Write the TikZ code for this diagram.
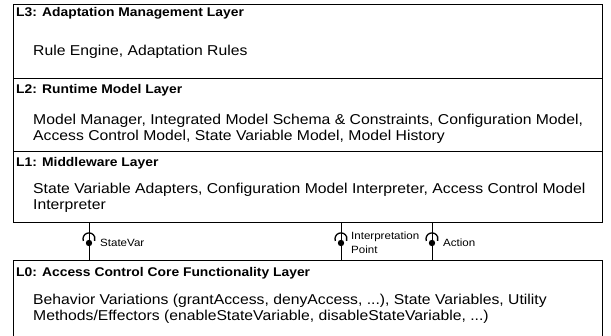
\documentclass[tikz,border=0pt]{standalone}
\usepackage{fontspec}
\setmainfont{Liberation Sans}[FakeStretch=1.1]
\usetikzlibrary{positioning, calc}

\begin{document}
\begin{tikzpicture}[
    x=1pt, y=-1pt,
    font=\fontsize{14.3}{16}\selectfont,
    layer/.style={draw, minimum width=589pt, inner sep=0pt, anchor=north west},
    title/.style={inner sep=0pt, font=\fontsize{12.6}{16}\selectfont\bfseries},
    body/.style={inner sep=0pt, align=left},
    iface/.style={anchor=west, inner sep=0pt, align=left,
                  font=\fontsize{10.5}{14.5}\selectfont},
    ball/.style={fill=black},
    socket/.style={line width=1.3pt},
  ]
  \useasboundingbox (0,0) rectangle (611,336);
  % layer boxes
  \node[layer, minimum height=74pt] (l3) at (13,4) {};
  \node[layer, minimum height=73pt] (l2) at (13,78) {};
  \node[layer, minimum height=71pt] (l1) at (13,151) {};
  \node[layer, minimum height=90pt] (l0) at (13,260) {};
  % titles and contents
  \node[title, below right=3.5pt and 3pt of l3.north west] (t3) {L3: Adaptation Management Layer};
  \node[body, below right=41pt and 20pt of l3.north west] (b3) {Rule Engine, Adaptation Rules};
  \node[title, below right=6pt and 3pt of l2.north west] (t2) {L2: Runtime Model Layer};
  \node[body, below right=36pt and 20pt of l2.north west] (b2)
    {Model Manager, Integrated Model Schema \& Constraints, Configuration Model,\\
     Access Control Model, State Variable Model, Model History};
  \node[title, below right=6pt and 3pt of l1.north west] (t1) {L1: Middleware Layer};
  \node[body, below right=32pt and 20pt of l1.north west] (b1)
    {State Variable Adapters, Configuration Model Interpreter, Access Control Model\\
     Interpreter};
  \node[title, below right=7pt and 3pt of l0.north west] (t0) {L0: Access Control Core Functionality Layer};
  \node[body, below right=34pt and 20pt of l0.north west] (b0)
    {Behavior Variations (grantAccess, denyAccess, ...), State Variables, Utility\\
     Methods/Effectors (enableStateVariable, disableStateVariable, ...)};
  % provided/required interfaces
  \coordinate (sv) at (89,243);
  \coordinate (ip) at (341,243);
  \coordinate (ac) at (432,243);
  \foreach \c in {sv, ip, ac} {
    \draw (\c |- l1.south) -- (\c |- l0.north);
    \fill[ball] (\c) circle (3.2pt);
    \draw[socket] ($(\c)+(200:6)$) arc[start angle=200, end angle=-20, radius=6pt];
  }
  \node[iface, right=11pt of sv] (svl) {StateVar};
  \node[iface, right=10pt of ip] (ipl) {Interpretation\\Point};
  \node[iface, right=11pt of ac] (acl) {Action};
\end{tikzpicture}
\end{document}
